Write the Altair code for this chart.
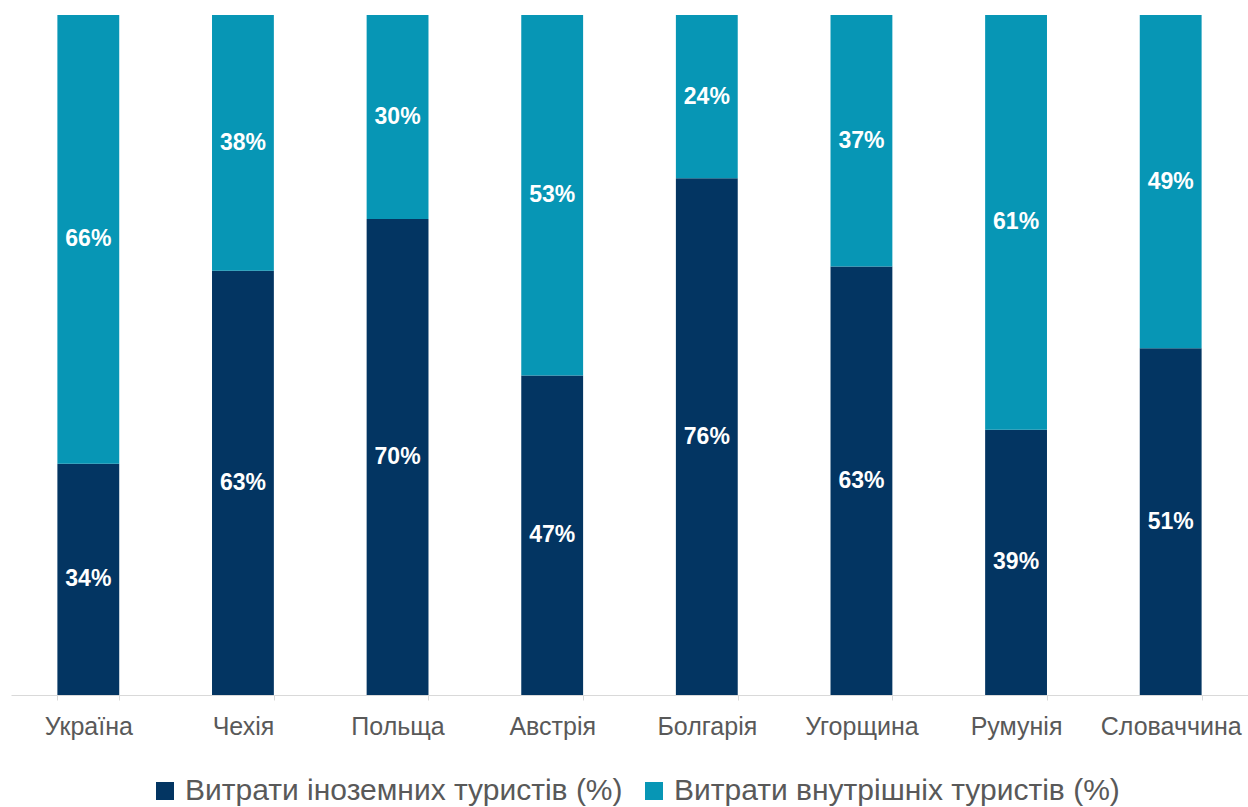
import altair as alt
import pandas as pd

countries = ["Україна", "Чехія", "Польща", "Австрія", "Болгарія", "Угорщина", "Румунія", "Словаччина"]
foreign = [34, 63, 70, 47, 76, 63, 39, 51]
domestic = [66, 38, 30, 53, 24, 37, 61, 49]
series = ["Витрати іноземних туристів (%)", "Витрати внутрішніх туристів (%)"]
colors = ["#033562", "#0796B5"]

rows = []
for c, f, d in zip(countries, foreign, domestic):
    rows.append({"country": c, "series": series[0], "idx": 0, "value": f})
    rows.append({"country": c, "series": series[1], "idx": 1, "value": d})
df = pd.DataFrame(rows)

FONT = "Liberation Sans"

base = (
    alt.Chart(df)
    .transform_joinaggregate(total="sum(value)", groupby=["country"])
    .transform_calculate(frac="datum.value / datum.total", label="datum.value + '%'")
    .transform_stack(stack="frac", groupby=["country"], as_=["y0", "y1"],
                     sort=[alt.SortField("idx", order="ascending")])
    .transform_calculate(mid="(datum.y0 + datum.y1) / 2")
)

x_enc = alt.X(
    "country:N",
    sort=countries,
    title=None,
    scale=alt.Scale(paddingInner=0.6, paddingOuter=0.3),
    axis=alt.Axis(
        labelAngle=0,
        labelFont=FONT,
        labelFontSize=25,
        labelColor="#595959",
        labelPadding=14,
        domainColor="#d9d9d9",
        tickColor="#d9d9d9",
        tickSize=5,
        tickBand="extent",
        grid=False,
    ),
)

bars = base.mark_bar().encode(
    x=x_enc,
    y=alt.Y("y0:Q", scale=alt.Scale(domain=[0, 1], nice=False, zero=True), axis=None),
    y2="y1:Q",
    color=alt.Color(
        "series:N",
        sort=series,
        scale=alt.Scale(domain=series, range=colors),
        legend=alt.Legend(
            title=None,
            orient="none",
            direction="horizontal",
            legendX=139,
            legendY=761,
            symbolType="square",
            symbolSize=324,
            symbolStrokeWidth=0,
            labelFont=FONT,
            labelFontSize=30,
            labelColor="#595959",
            labelOffset=5,
            columnPadding=16,
            padding=0,
            labelLimit=600,
        ),
    ),
)

texts = base.mark_text(color="white", fontWeight="bold", fontSize=23, font=FONT).encode(
    x=alt.X("country:N", sort=countries),
    y=alt.Y("mid:Q"),
    text="label:N",
)

chart = (
    alt.layer(bars, texts)
    .properties(
        width=1237,
        height=680,
        autosize=alt.AutoSizeParams(type="none"),
        padding={"left": 11, "top": 15, "right": 0, "bottom": 112},
        background="white",
    )
    .configure_view(stroke=None)
)

chart.save("out.html", embed_options={"renderer": "svg", "actions": False})
